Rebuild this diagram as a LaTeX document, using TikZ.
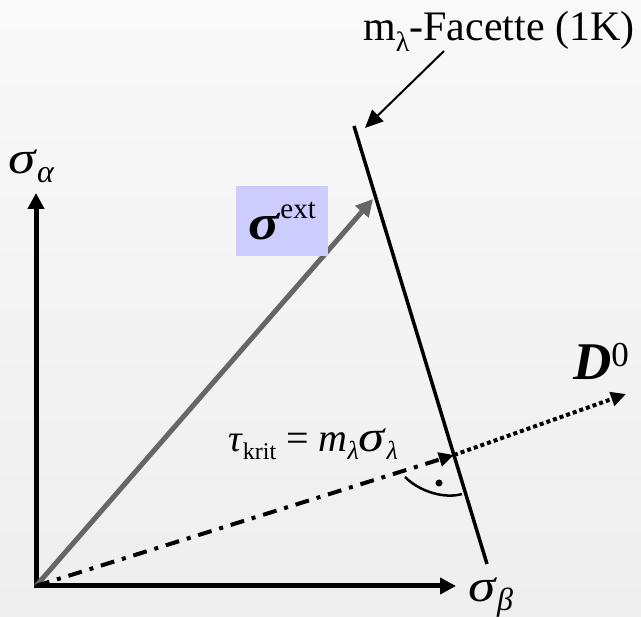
\documentclass[tikz,border=0pt]{standalone}
\usepackage{fontspec}
\setmainfont{Liberation Serif}
\usetikzlibrary{arrows.meta}
\newcommand\fs[1]{\fontsize{#1}{#1}\selectfont}
\newcommand\wsig[1]{\scalebox{1.2}[1]{\fs{#1}\textit{σ}}}
\definecolor{boxblue}{HTML}{CCCCFF}
\definecolor{arrgray}{HTML}{666666}
\definecolor{bgtop}{HTML}{F9F9F9}
\definecolor{bgbot}{HTML}{EEEEEE}
\begin{document}
\begin{tikzpicture}[x=1pt,y=-1pt,
  axis/.style={line width=5pt, {Triangle[length=16pt,width=16pt]}-{Triangle[length=16pt,width=16pt]}},
  extarrow/.style={line width=5pt, arrgray, -{Triangle[length=17pt,width=17pt]}},
  facet/.style={line width=3.5pt},
  dashdot/.style={line width=4pt, dash pattern=on 14pt off 8pt on 4pt off 8pt, -{Triangle[length=15pt,width=14pt]}},
  dots/.style={line width=4pt, dash pattern=on 4pt off 3pt, -{Triangle[length=15pt,width=14pt]}},
  note/.style={line width=2pt, -{Triangle[length=18pt,width=16pt]}},
  lbl/.style={inner sep=0pt, anchor=base west}]
\useasboundingbox (0,0) rectangle (641,617);
\shade[top color=bgtop, bottom color=bgbot] (0,0) rectangle (641,617);

\coordinate (O) at (36,586);
\coordinate (A) at (36,193);
\coordinate (B) at (456,586);
\coordinate (G) at (373,199);
\coordinate (F1) at (354,126);
\coordinate (F2) at (487,564);
\coordinate (X) at (454,455);
\coordinate (D) at (626,394);
\coordinate (N1) at (444,51);
\coordinate (N2) at (365,128);
\coordinate (R1) at (405,477);
\coordinate (R2) at (462,494);
\coordinate (Rdot) at (439,483);

% axes
\draw[axis] (A) -- (O) -- (B);
% external stress
\draw[extarrow] (O) -- (G);
% facet
\draw[facet] (F1) -- (F2);
% normal direction
\draw[dashdot] (O) -- (X);
\draw[dots] (X) -- (D);
% right angle
\draw[line width=2.5pt] (R1) .. controls (420,492) and (445,499) .. (R2);
\fill (Rdot) circle (3.5pt);
% annotation
\draw[note] (N1) -- (N2);

% labels
\node[lbl] (title) at (363,41) {\fs{42}m\raisebox{-11pt}{\fs{28}λ}-Facette (1K)};
\node[lbl] (sa) at (8,174) {\wsig{46}\raisebox{-9pt}{\fs{32}\textit{α}}};
\node[lbl] (sb) at (468,602) {\wsig{46}\raisebox{-9pt}{\fs{32}\textit{β}}};
\node[fill=boxblue, minimum width=92pt, minimum height=70pt, inner sep=0pt] (ext) at (282,221)
  {\scalebox{1.15}[1]{\fs{50}\textbf{\textit{σ}}}\raisebox{21pt}{\fs{29}ext}};
\node[lbl] (tau) at (228,452) {\fs{38}\textit{τ}\raisebox{-8pt}{\fs{24}krit}\hspace{10pt}\fs{40}=\hspace{10pt}\textit{m}\raisebox{-8pt}{\fs{26}\textit{λ}}\wsig{44}\raisebox{-8pt}{\fs{26}\textit{λ}}};
\node[inner sep=0pt, anchor=base east] (D0) at (629,380) {\fs{53}\textbf{\textit{D}}\raisebox{13pt}{\fs{35}0}};
\end{tikzpicture}
\end{document}
